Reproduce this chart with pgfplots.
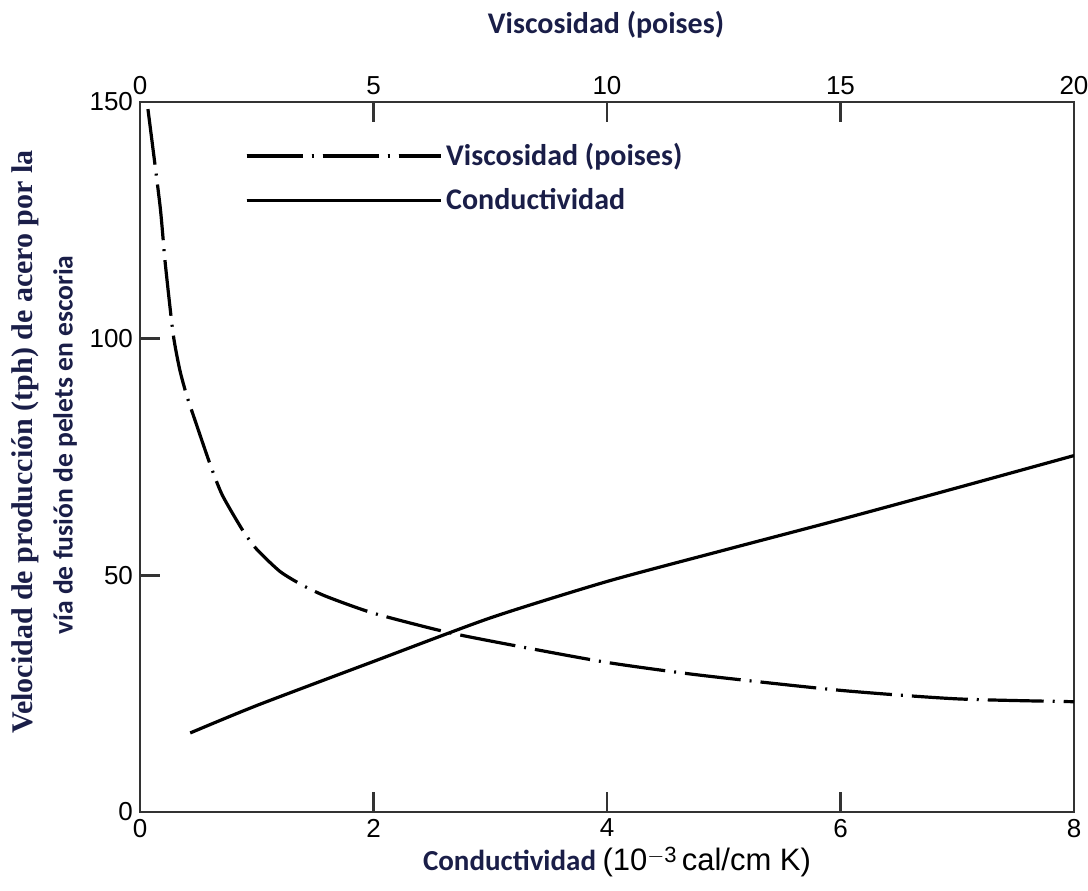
\documentclass[border=0pt]{standalone}
\usepackage{pgfplots}
\pgfplotsset{compat=1.18}
\usepackage{fontspec}
\setmainfont{Carlito}
\newfontfamily\ticksf{Liberation Sans}
\newfontfamily\serifb{Liberation Serif}
\definecolor{navy}{RGB}{26,30,72}
\pgfplotstableread{
x y
0.43 16.7
1 22.5
2 31.8
3 41
4 48.7
5 55.3
6 61.8
7 68.5
8 75.3
}\conduct
\pgfplotstableread{
x y
0.17 148.5
0.43 128
0.54 116
0.71 101
0.85 93.5
1.0 88
1.18 82.7
1.5 73.5
1.76 67
2.2 59.5
2.5 55.5
3 50.8
3.5 47.8
4 45.5
5 42
6.57 38
8 35.2
10 31.6
12 28.9
15 25.7
17.5 23.9
20 23.3
}\visc
\begin{document}
\begin{tikzpicture}
\useasboundingbox (-70pt,-39pt) rectangle (474pt,406pt);
\pgfplotsset{
  common/.style={
    at={(0,0)}, anchor=south west, scale only axis,
    width=467pt, height=355pt,
    ymin=0, ymax=150,
    tick align=inside, major tick length=10pt,
    axis line style={line width=1.3pt, black!80},
    tick style={line width=1.2pt, black!80},
    tick label style={font=\ticksf\fontsize{13}{13}\selectfont},
    /pgf/number format/assume math mode=true,
  }
}
\begin{axis}[common,
  xmin=0, xmax=8,
  xtick={0,2,4,6,8}, ytick={0,50,100,150},
  xtick pos=lower, ytick pos=left,
]
\addplot[line width=1.6pt, black, smooth, tension=0.4] table[x=x,y=y] {\conduct};
\end{axis}
\begin{axis}[common,
  xmin=0, xmax=20,
  axis x line*=top, axis y line=none,
  xtick={0,5,10,15,20},
  legend style={at={(axis description cs:0.112,0.948)}, anchor=north west,
    draw=none, fill=none, inner sep=0pt, row sep=6pt,
    font=\bfseries\color{navy}\fontsize{15}{15}\selectfont},
  legend cell align=left,
  legend image code/.code={\path (0pt,0pt) -- (97pt,0pt);\draw[#1] (0pt,0pt) -- (86pt,0pt);},
]
\addplot[line width=1.6pt, black, smooth, tension=0.4, dash pattern=on 28pt off 4.5pt on 1pt off 4.5pt] table[x=x,y=y] {\visc};
\addlegendentry{Viscosidad (poises)}
\addlegendimage{line width=1.6pt, black}
\addlegendentry{Conductividad}
\end{axis}
\node[font=\bfseries\fontsize{15}{15}\selectfont, text=navy] at (233pt,393.5pt) {Viscosidad (poises)};
\node[anchor=center] at (238.5pt,-25pt) {\fontsize{14.5}{14.5}\selectfont\textbf{\textcolor{navy}{Conductividad}}\ {\ticksf\fontsize{15.5}{15.5}\selectfont(10\raisebox{0.5ex}{\fontsize{11}{11}\selectfont $-$3}\,cal/cm K)}};
\node[rotate=90, font=\serifb\bfseries\fontsize{15}{15}\selectfont, text=navy] at (-57.5pt,185pt) {Velocidad de producción (tph) de acero por la};
\node[rotate=90, font=\bfseries\fontsize{13.8}{13.8}\selectfont, text=navy] at (-37.5pt,183.5pt) {vía de fusión de pelets en escoria};
\end{tikzpicture}
\end{document}
